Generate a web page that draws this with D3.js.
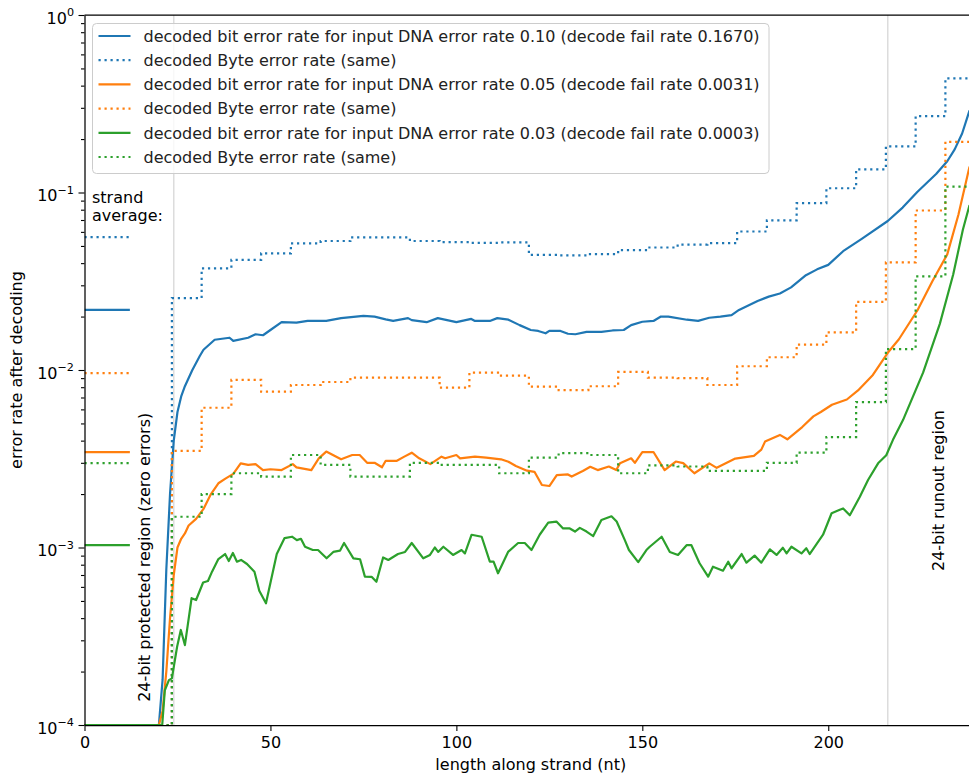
<!DOCTYPE html>
<html>
<head>
<meta charset="utf-8">
<script src="https://cdn.jsdelivr.net/npm/d3@7"></script>
<style>
  body { margin: 0; background: #fff; }
  svg { display: block; font-family: "DejaVu Sans", sans-serif; }
</style>
</head>
<body>
<svg id="chart" width="969" height="775"></svg>
<script>
// decoded bit error rate, [position nt, rate]
var blueBit = [[0,1e-4],[20,1e-4],[21,1.8e-4],[22,7.5e-4],[23,2.0e-3],[24,4.0e-3],[25,5.8e-3],[26,7.1e-3],[27,8.1e-3],[29,1.0e-2],
  [31,1.2e-2],[32,1.3e-2],[35,1.48e-2],[39,1.52e-2],[40,1.46e-2],[44,1.52e-2],[46,1.59e-2],[48,1.57e-2],[50,1.68e-2],[53,1.86e-2],
  [57,1.85e-2],[60,1.89e-2],[65,1.89e-2],[69,1.96e-2],[73,2.0e-2],[75,2.02e-2],[78,2.0e-2],[81,1.93e-2],[83,1.89e-2],[87,1.96e-2],
  [88,1.91e-2],[92,1.86e-2],[95,1.96e-2],[100,1.86e-2],[104,1.94e-2],[105,1.89e-2],[109,1.89e-2],[111,1.96e-2],[114,1.92e-2],[117,1.79e-2],
  [120,1.68e-2],[122,1.66e-2],[124,1.61e-2],[125,1.66e-2],[128,1.66e-2],[130,1.60e-2],[132,1.59e-2],[135,1.64e-2],[139,1.64e-2],[142,1.67e-2],
  [145,1.68e-2],[147,1.79e-2],[150,1.87e-2],[153,1.89e-2],[155,2.0e-2],[157,2.0e-2],[162,1.92e-2],[165,1.89e-2],[168,1.97e-2],[171,2.0e-2],
  [174,2.04e-2],[176,2.18e-2],[181,2.45e-2],[184,2.59e-2],[187,2.70e-2],[190,2.92e-2],[194,3.42e-2],[197,3.69e-2],[200,3.91e-2],[204,4.67e-2],
  [209,5.48e-2],[216,6.91e-2],[220,8.22e-2],[224,0.101],[229,0.127],[232,0.150],[234,0.175],[236,0.215],[238,0.29]];

var orangeBit = [[0,1e-4],[20,1e-4],[21,1.2e-4],[22,2.0e-4],[23,4.0e-4],[24,7.0e-4],[25,1.0e-3],[26,1.12e-3],[27,1.2e-3],[28,1.33e-3],
  [30,1.45e-3],[32,1.65e-3],[34,2.0e-3],[36,2.3e-3],[38,2.45e-3],[40,2.6e-3],[42,2.98e-3],[44,2.92e-3],[46,2.95e-3],[48,2.73e-3],
  [50,2.76e-3],[53,2.73e-3],[56,2.95e-3],[57,2.83e-3],[61,2.73e-3],[63,3.18e-3],[65,3.47e-3],[69,3.14e-3],[72,3.32e-3],[74,3.32e-3],
  [76,3.0e-3],[78,3.0e-3],[80,2.83e-3],[81,3.08e-3],[84,3.08e-3],[86,3.25e-3],[88,3.42e-3],[90,3.18e-3],[93,2.95e-3],[96,3.25e-3],
  [97,3.18e-3],[100,3.32e-3],[101,3.18e-3],[105,3.25e-3],[108,3.21e-3],[112,3.14e-3],[114,3.04e-3],[116,2.88e-3],[119,2.71e-3],[121,2.67e-3],
  [123,2.25e-3],[125,2.22e-3],[127,2.56e-3],[130,2.58e-3],[131,2.51e-3],[134,2.70e-3],[136,2.85e-3],[138,2.73e-3],[141,2.86e-3],[143,2.73e-3],
  [144,2.98e-3],[147,3.18e-3],[148,3.0e-3],[150,3.45e-3],[153,3.45e-3],[156,2.73e-3],[159,3.05e-3],[161,2.99e-3],[164,2.62e-3],[168,2.98e-3],
  [170,2.81e-3],[175,3.17e-3],[180,3.28e-3],[182,3.56e-3],[183,3.95e-3],[187,4.31e-3],[189,4.07e-3],[193,4.77e-3],[196,5.48e-3],[198,5.80e-3],
  [201,6.37e-3],[205,6.82e-3],[208,7.67e-3],[212,9.38e-3],[216,1.25e-2],[219,1.49e-2],[224,2.17e-2],[228,3.16e-2],[232,4.48e-2],[235,7.5e-2],
  [238,0.14]];

var greenBit = [[0,1e-4],[20.9,1e-4],[21.6,1.57e-4],[22.7,1.79e-4],[23.5,1.83e-4],[24.9,2.76e-4],[25.9,3.43e-4],[27,2.82e-4],[28.8,5.18e-4],[30,5.06e-4],
  [31.9,6.35e-4],[33.2,6.48e-4],[34.3,7.31e-4],[36,8.61e-4],[37.8,9.19e-4],[38.8,8.39e-4],[39.9,9.31e-4],[41,8.32e-4],[42.1,8.51e-4],[43.7,8.07e-4],
  [45.7,7.31e-4],[47,5.7e-4],[48.8,4.85e-4],[51.7,9.19e-4],[53.8,1.13e-3],[55.8,1.15e-3],[57.1,1.1e-3],[58.2,1.12e-3],[59.3,1.01e-3],[61.4,9.68e-4],
  [62.8,9.68e-4],[65.1,8.69e-4],[66.9,9.44e-4],[68.7,9.6e-4],[69.8,1.06e-3],[72.3,8.69e-4],[74.1,8.59e-4],[75.4,6.85e-4],[77.2,6.84e-4],[78.5,6.41e-4],
  [80.3,8.79e-4],[81.7,8.51e-4],[84.3,9.19e-4],[86.2,9.44e-4],[88,1.06e-3],[91.1,8.69e-4],[92.9,9.08e-4],[94.2,1.0e-3],[95.1,9.44e-4],[96.5,1.01e-3],
  [99.1,9.08e-4],[101.4,9.68e-4],[102.3,9.26e-4],[104.1,1.18e-3],[106.8,1.15e-3],[109,8.32e-4],[110,8.32e-4],[111.2,7.16e-4],[113.9,9.44e-4],[116.6,1.06e-3],
  [118.4,1.06e-3],[120.2,9.68e-4],[122.4,1.18e-3],[124.7,1.38e-3],[126.9,1.4e-3],[128.7,1.28e-3],[130.5,1.28e-3],[131.9,1.23e-3],[133.2,1.29e-3],[135,1.23e-3],
  [136.8,1.16e-3],[139,1.43e-3],[141.7,1.5e-3],[143.1,1.4e-3],[145.3,1.1e-3],[146.4,9.68e-4],[148.9,8.28e-4],[151.1,9.68e-4],[152,1.01e-3],[155.2,1.15e-3],
  [157.4,9.44e-4],[159.6,9.08e-4],[161.9,1.03e-3],[163.2,1.03e-3],[165.4,8.15e-4],[167.7,6.85e-4],[169,7.8e-4],[171.7,7.4e-4],[173.1,8.32e-4],[174,7.64e-4],
  [176.7,9.19e-4],[178,8.21e-4],[180.2,9.0e-4],[182,8.21e-4],[184.3,9.77e-4],[186.1,9.08e-4],[187.8,9.97e-4],[188.8,9.26e-4],[190.1,1.01e-3],[192.8,9.26e-4],
  [194.1,9.9e-4],[195,9.19e-4],[198.6,1.18e-3],[200.9,1.56e-3],[203.1,1.63e-3],[204,1.66e-3],[205.8,1.52e-3],[208.5,1.93e-3],[210.7,2.4e-3],[213.4,2.98e-3],
  [215.6,3.31e-3],[217.4,4.04e-3],[220.1,5.22e-3],[225.5,9.66e-3],[230,1.82e-2],[233.6,3.45e-2],[236.2,6.17e-2],[238,8.5e-2]];

// decoded Byte error rate, one value per byte, byte i starts at byteStart[i]
var byteStart = [-0.5, 7.5, 15.5, 23.5, 31.5, 39.5, 47.5, 55.5, 63.5, 71.5, 79.5, 87.5, 95.5, 103.5, 111.5,
  119.5, 127.5, 135.5, 143.5, 151.5, 159.5, 167.5, 175.5, 183.5, 191.5, 199.5, 207.5, 215.5, 223.5, 231.5, 239.5];
var blueByte = [1e-4, 1e-4, 1e-4, 2.54e-2, 3.74e-2, 4.17e-2, 4.54e-2, 5.17e-2, 5.33e-2, 5.58e-2, 5.58e-2, 5.33e-2, 5.26e-2, 5.2e-2, 5.23e-2,
  4.45e-2, 4.42e-2, 4.5e-2, 4.74e-2, 4.9e-2, 5.09e-2, 5.18e-2, 6.03e-2, 6.96e-2, 8.71e-2, 0.1057, 0.135, 0.182, 0.269, 0.439];
var orangeByte = [1e-4, 1e-4, 1e-4, 3.5e-3, 6.13e-3, 8.79e-3, 7.55e-3, 8.23e-3, 8.56e-3, 9.05e-3, 9.05e-3, 9.05e-3, 7.95e-3, 9.66e-3, 9.29e-3,
  8.05e-3, 7.71e-3, 8.1e-3, 9.75e-3, 9.05e-3, 9.0e-3, 8.23e-3, 1.05e-2, 1.18e-2, 1.39e-2, 1.63e-2, 2.42e-2, 4.04e-2, 7.92e-2, 0.193];
var greenByte = [1e-4, 1e-4, 1e-4, 1.49e-3, 2.0e-3, 2.62e-3, 2.51e-3, 3.32e-3, 2.92e-3, 2.51e-3, 2.51e-3, 3.0e-3, 2.92e-3, 2.92e-3, 2.62e-3,
  3.21e-3, 3.4e-3, 3.32e-3, 2.62e-3, 2.9e-3, 2.86e-3, 2.7e-3, 2.7e-3, 3.0e-3, 3.42e-3, 4.19e-3, 6.6e-3, 1.31e-2, 3.37e-2, 0.108];

// strand averages (bit, Byte) per DNA error rate
var avgBit = [0.0218, 0.00345, 0.00103];
var avgByte = [0.0561, 0.0096, 0.00299];

var colors = ["#1f77b4", "#ff7f0e", "#2ca02c"];
var legendLabels = [
  "decoded bit error rate for input DNA error rate 0.10 (decode fail rate 0.1670)",
  "decoded Byte error rate (same)",
  "decoded bit error rate for input DNA error rate 0.05 (decode fail rate 0.0031)",
  "decoded Byte error rate (same)",
  "decoded bit error rate for input DNA error rate 0.03 (decode fail rate 0.0003)",
  "decoded Byte error rate (same)"
];
var xTicks = [0, 50, 100, 150, 200];
var yTicks = [1e-4, 1e-3, 1e-2, 1e-1, 1];
var regionEdges = [24, 216];

var svg = d3.select("#chart"),
    PLOT = {left: 84.5, right: 977, top: 15, bottom: 725},
    FONT = 16,
    LW = 2.2,
    DOTS = "2.2,3.8";

var xScale = d3.scaleLinear().domain([0, 240]).range([PLOT.left, PLOT.right]),
    yScale = d3.scaleLog().domain([1e-4, 1]).range([PLOT.bottom, PLOT.top]);

svg.append("defs").append("clipPath").attr("id", "plotclip")
  .append("rect")
  .attr("x", PLOT.left).attr("y", PLOT.top)
  .attr("width", PLOT.right - PLOT.left).attr("height", PLOT.bottom - PLOT.top);

var plot = svg.append("g").attr("clip-path", "url(#plotclip)");

// region edges
plot.selectAll(".edge").data(regionEdges).enter().append("line")
  .attr("x1", d => xScale(d)).attr("x2", d => xScale(d))
  .attr("y1", PLOT.top).attr("y2", PLOT.bottom)
  .attr("stroke", "#dcdcdc").attr("stroke-width", 1.5);

var lineGen = d3.line()
  .x(d => xScale(d[0]))
  .y(d => yScale(d[1]));

var stepGen = d3.line()
  .curve(d3.curveStepAfter)
  .x(d => xScale(d[0]))
  .y(d => yScale(d[1]));

function bytePoints(vals) {
  return byteStart.map(function(s, i) { return [s, vals[Math.min(i, vals.length - 1)]]; });
}

var bitSeries = [blueBit, orangeBit, greenBit],
    byteSeries = [blueByte, orangeByte, greenByte];

bitSeries.forEach(function(bits, i) {
  plot.append("path")
    .attr("d", lineGen(bits))
    .attr("fill", "none").attr("stroke", colors[i])
    .attr("stroke-width", LW).attr("stroke-linejoin", "round");
  plot.append("path")
    .attr("d", stepGen(bytePoints(byteSeries[i])))
    .attr("fill", "none").attr("stroke", colors[i])
    .attr("stroke-width", LW).attr("stroke-dasharray", DOTS);
});

// strand average markers
var avgX = [0, 12.2];
avgBit.forEach(function(v, i) {
  plot.append("line")
    .attr("x1", xScale(avgX[0])).attr("x2", xScale(avgX[1]))
    .attr("y1", yScale(v)).attr("y2", yScale(v))
    .attr("stroke", colors[i]).attr("stroke-width", LW);
});
avgByte.forEach(function(v, i) {
  plot.append("line")
    .attr("x1", xScale(avgX[0])).attr("x2", xScale(avgX[1]))
    .attr("y1", yScale(v)).attr("y2", yScale(v))
    .attr("stroke", colors[i]).attr("stroke-width", LW)
    .attr("stroke-dasharray", DOTS);
});

// axes
var xAxis = svg.append("g")
  .attr("transform", "translate(0," + PLOT.bottom + ")")
  .call(d3.axisBottom(xScale).tickValues(xTicks).tickSize(6).tickSizeOuter(0).tickPadding(6));
xAxis.attr("font-size", FONT).attr("font-family", "DejaVu Sans");

var minorTicks = [];
yTicks.slice(0, -1).forEach(function(d) {
  for (var k = 2; k < 10; k++) minorTicks.push(d * k);
});
var yMinor = svg.append("g")
  .attr("transform", "translate(" + PLOT.left + ",0)")
  .call(d3.axisLeft(yScale).tickValues(minorTicks).tickSize(3.5).tickFormat(""));
yMinor.select(".domain").remove();

var yAxis = svg.append("g")
  .attr("transform", "translate(" + PLOT.left + ",0)")
  .call(d3.axisLeft(yScale).tickValues(yTicks).tickSize(6).tickSizeOuter(0).tickFormat(""));

svg.selectAll(".domain").attr("stroke", "#000").attr("stroke-width", 1.25);
svg.selectAll(".tick line").attr("stroke", "#000").attr("stroke-width", 1.1);

svg.append("line")
  .attr("x1", PLOT.left).attr("x2", PLOT.right)
  .attr("y1", PLOT.top).attr("y2", PLOT.top)
  .attr("stroke", "#000").attr("stroke-width", 1.25);

yTicks.forEach(function(d) {
  var ex = Math.round(Math.log10(d));
  var t = svg.append("text")
    .attr("x", PLOT.left - 10.5)
    .attr("y", yScale(d) + 8.5)
    .attr("text-anchor", "end")
    .attr("font-size", FONT)
    .attr("fill", "#000");
  t.append("tspan").text("10");
  t.append("tspan")
    .attr("dy", -7.5)
    .attr("font-size", FONT * 0.7)
    .text(ex < 0 ? "\u2212" + Math.abs(ex) : String(ex));
});

svg.append("text")
  .attr("transform", "translate(22," + ((PLOT.top + PLOT.bottom) / 2) + ") rotate(-90)")
  .attr("text-anchor", "middle").attr("font-size", FONT)
  .text("error rate after decoding");

svg.append("text")
  .attr("x", (PLOT.left + PLOT.right) / 2).attr("y", 770)
  .attr("text-anchor", "middle").attr("font-size", FONT)
  .text("length along strand (nt)");

// annotations
svg.append("text")
  .attr("transform", "translate(" + xScale(17.6) + "," + yScale(1.35e-4) + ") rotate(-90)")
  .attr("font-size", FONT)
  .text("24-bit protected region (zero errors)");
svg.append("text")
  .attr("transform", "translate(" + xScale(231.0) + "," + yScale(7.37e-4) + ") rotate(-90)")
  .attr("font-size", FONT)
  .text("24-bit runout region");

svg.append("text").attr("x", 92).attr("y", 202.5).attr("font-size", FONT).text("strand");
svg.append("text").attr("x", 92).attr("y", 220.5).attr("font-size", FONT).text("average:");

// legend
var legend = svg.append("g");
legend.append("rect")
  .attr("x", 92.5).attr("y", 23.5)
  .attr("width", 676.5).attr("height", 150)
  .attr("rx", 4)
  .attr("fill", "#fff").attr("fill-opacity", 0.8)
  .attr("stroke", "#cccccc").attr("stroke-width", 1);

var rowY0 = 36, rowStep = 24.2;
legendLabels.forEach(function(label, i) {
  var yy = rowY0 + i * rowStep,
      dotted = i % 2 === 1,
      c = colors[Math.floor(i / 2)];
  legend.append("line")
    .attr("x1", 98.5).attr("x2", 130.5)
    .attr("y1", yy).attr("y2", yy)
    .attr("stroke", c).attr("stroke-width", LW)
    .attr("stroke-dasharray", dotted ? DOTS : null);
  legend.append("text")
    .attr("x", 143.5).attr("y", yy + 5.8)
    .attr("font-size", FONT).attr("fill", "#222")
    .text(label);
});
</script>
</body>
</html>
